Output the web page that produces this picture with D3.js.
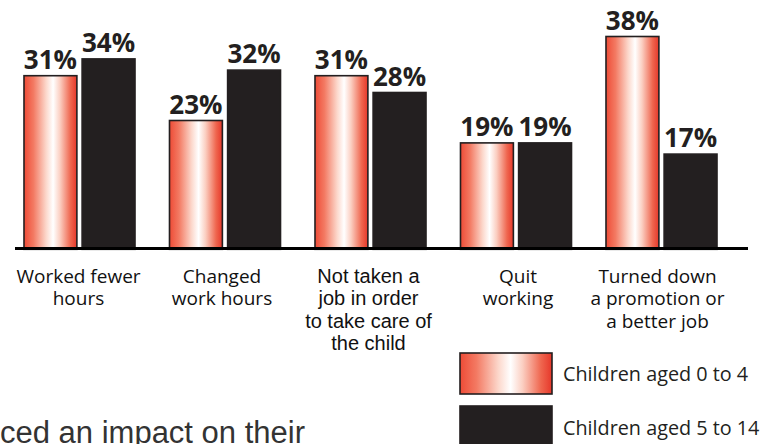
<!DOCTYPE html>
<html>
<head>
<meta charset="utf-8">
<script src="https://cdn.jsdelivr.net/npm/d3@7"></script>
<style>
  html, body { margin: 0; padding: 0; background: #fff; }
  svg { display: block; }
</style>
</head>
<body>
<svg id="chart" width="781" height="444"></svg>
<script>
// Impact on work, by age of child (percent of parents)
const categories = ["Worked fewer hours", "Changed work hours", "Not taken a job", "Quit working", "Turned down a promotion"];
const categoryLines = [
  ["Worked fewer", "hours"],
  ["Changed", "work hours"],
  ["Not taken a", "job in order", "to take care of", "the child"],
  ["Quit", "working"],
  ["Turned down", "a promotion or", "a better job"]
];
const seriesNames = ["Children aged 0 to 4", "Children aged 5 to 14"];
const aged0to4 = [31, 23, 31, 19, 38];
const aged5to14 = [34, 32, 28, 19, 17];
const footText = "experienced an impact on their";

const rows = categories.map((c, i) => ({ cat: c, values: [aged0to4[i], aged5to14[i]] }));

const svg = d3.select("#chart");
const ink = "#231f20";

// red-white-red highlight used for the younger group
const defs = svg.append("defs");
const grad = defs.append("linearGradient").attr("id", "redGlow")
  .attr("x1", "0%").attr("x2", "100%").attr("y1", "0%").attr("y2", "0%");
[[0, "#ee4b36"], [0.18, "#f37a63"], [0.42, "#fcd8cc"], [0.55, "#ffffff"], [0.68, "#fbcfc2"], [0.88, "#ef664f"], [1, "#e6372a"]]
  .forEach(([o, c]) => grad.append("stop").attr("offset", o).attr("stop-color", c));

const x0 = d3.scaleBand().domain(categories).range([6.75, 734.25]).paddingInner(0.237).paddingOuter(0.1185);
const x1 = d3.scaleBand().domain(seriesNames).range([0, x0.bandwidth()]).paddingInner(0.09);
const y = d3.scaleLinear().domain([0, 40]).range([249.3, 25.3]);

const fills = [ "url(#redGlow)", ink ];

const groups = svg.append("g").selectAll("g").data(rows).join("g")
  .attr("transform", d => `translate(${x0(d.cat)},0)`);

groups.selectAll("rect").data(d => d.values.map((v, i) => ({ v, s: seriesNames[i], i })))
  .join("rect")
  .attr("x", d => x1(d.s))
  .attr("y", d => y(d.v))
  .attr("width", x1.bandwidth())
  .attr("height", d => y(0) - y(d.v))
  .attr("fill", d => fills[d.i])
  .attr("stroke", ink)
  .attr("stroke-width", 1.6);

groups.selectAll("text.val").data(d => d.values.map((v, i) => ({ v, s: seriesNames[i] })))
  .join("text")
  .attr("class", "val")
  .attr("x", d => x1(d.s) + x1.bandwidth() / 2)
  .attr("y", d => y(d.v) - 7)
  .attr("text-anchor", "middle")
  .attr("font-family", "'Open Sans', sans-serif")
  .attr("font-weight", 700)
  .attr("font-size", 26)
  .attr("fill", ink)
  .text(d => d.v + "%");

// baseline
svg.append("line")
  .attr("x1", 15).attr("x2", 748)
  .attr("y1", 248.5).attr("y2", 248.5)
  .attr("stroke", "#000").attr("stroke-width", 3.2);

// category labels
const catFont = ["'Open Sans'", "'Open Sans'", "'Liberation Sans'", "'Open Sans'", "'Open Sans'"];
const catShift = [-1, -3, -2, 2, -4];
const catG = svg.append("g").selectAll("text").data(rows).join("text")
  .attr("text-anchor", "middle")
  .attr("font-family", (d, i) => catFont[i] + ", sans-serif")
  .attr("font-size", (d, i) => i === 2 ? 20 : 19)
  .attr("fill", "#111");
catG.each(function (d, i) {
  const t = d3.select(this);
  const cx = x0(d.cat) + x0.bandwidth() / 2 + catShift[i];
  categoryLines[i].forEach((line, k) => {
    t.append("tspan").attr("x", cx).attr("y", 283 + k * 22.3).text(line);
  });
});

// legend
const legend = svg.append("g").attr("transform", "translate(460,353)");
seriesNames.forEach((name, i) => {
  legend.append("rect")
    .attr("x", 0).attr("y", i * 53)
    .attr("width", 92).attr("height", 41)
    .attr("fill", fills[i]).attr("stroke", ink).attr("stroke-width", 1.6);
  legend.append("text")
    .attr("x", 103).attr("y", 28 + i * 54)
    .attr("font-family", "'Open Sans', sans-serif")
    .attr("font-size", 19.8)
    .attr("fill", ink)
    .text(name);
});

// caption running off the lower edge
svg.append("text")
  .attr("x", 305).attr("y", 443)
  .attr("text-anchor", "end")
  .attr("font-family", "'Liberation Sans', Arial, sans-serif")
  .attr("font-size", 31)
  .attr("fill", "#333")
  .text(footText);
</script>
</body>
</html>
